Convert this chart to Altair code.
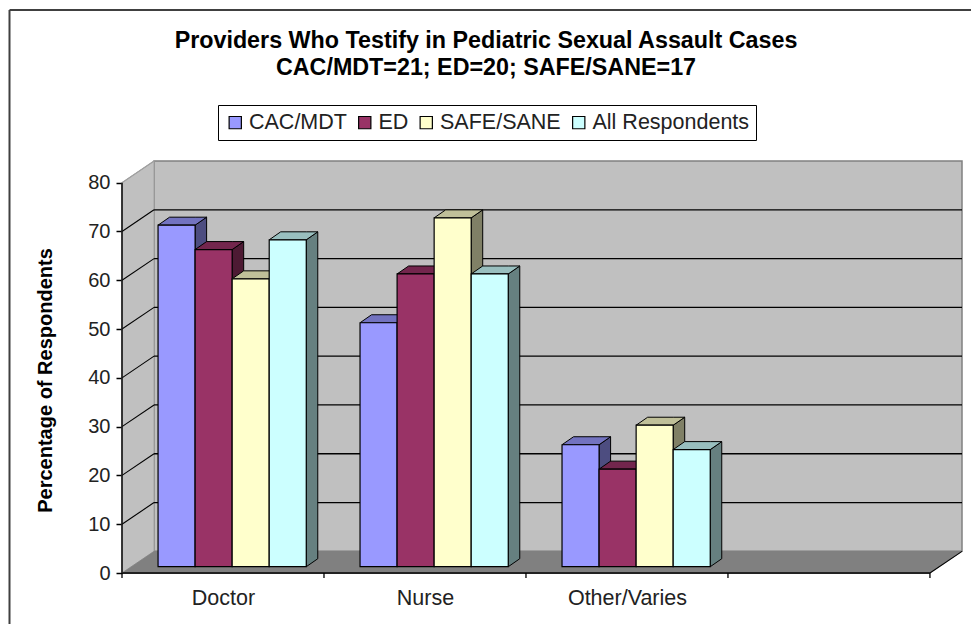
import altair as alt
import pandas as pd

categories = ["Doctor", "Nurse", "Other/Varies"]
series = ["CAC/MDT", "ED", "SAFE/SANE", "All Respondents"]
fronts = ["#9999FF", "#993366", "#FFFFCC", "#CCFFFF"]
tops = ["#7373C0", "#73264D", "#C0C099", "#99BFBF"]
sides = ["#4D4D80", "#4D1A33", "#808066", "#668080"]
values = {
    "CAC/MDT": [70, 50, 25],
    "ED": [65, 60, 20],
    "SAFE/SANE": [59, 71.5, 29],
    "All Respondents": [67, 60, 24],
}
y_ticks = [0, 10, 20, 30, 40, 50, 60, 70, 80]
x_ticks = [0, 1, 2, 3, 4]
grid_levels = [10, 20, 30, 40, 50, 60, 70]
y_title = "Percentage of Respondents"

# chart-space geometry, in scale units
W, H = 840, 412
CAT_PX, PCT_PX = 201.7, 4.8875
WALL_DX, WALL_DY = 32 / CAT_PX, 21.7 / PCT_PX
BAR_DX, BAR_DY = 11.5 / CAT_PX, 8 / PCT_PX
BAR_BASE = 6.3 / PCT_PX
BAR_START, BAR_W = 36 / CAT_PX, 37 / CAT_PX

FONT = "Liberation Sans"
xs = alt.Scale(domain=[0, 4 + WALL_DX], nice=False, zero=False)
ys = alt.Scale(domain=[0, 80 + WALL_DY], nice=False, zero=False)
X = lambda f="x", **k: alt.X(f"{f}:Q", scale=xs, title=None, **k)
Y = lambda f="y", **k: alt.Y(f"{f}:Q", scale=ys, title=y_title, **k)


def area(rows, fill, stroke="black", sw=1.0):
    return alt.Chart(pd.DataFrame(rows, columns=["x", "y", "y0"])).mark_area(
        fill=fill, stroke=stroke, strokeWidth=sw, opacity=1, clip=False
    ).encode(x=X(), y=Y(), y2="y0:Q")


# back wall with the real axes
wall = alt.Chart(pd.DataFrame([{
    "x": WALL_DX, "x2": 4 + WALL_DX, "y": WALL_DY, "y2": 80 + WALL_DY,
}])).mark_rect(fill="#C0C0C0", stroke="#808080", strokeWidth=1.5).encode(
    x=X(axis=alt.Axis(
        values=[0.5, 1.5, 2.5], ticks=False, domain=False, grid=False,
        labelExpr="['Doctor','Nurse','Other/Varies'][floor(datum.value)]",
        labelFont=FONT, labelFontSize=21.5, labelColor="#222222", labelPadding=14,
        labelAngle=0,
    )),
    x2="x2:Q",
    y=Y(axis=alt.Axis(
        values=y_ticks, domain=False, grid=False,
        tickSize=6, tickColor="black", tickWidth=1.5,
        labelFont=FONT, labelFontSize=20, labelColor="#222222", labelPadding=6,
        titleFont=FONT, titleFontSize=20, titleFontWeight="bold", titleColor="black",
        titleX=-67, titleY=219,
    )),
    y2="y2:Q",
)

left_wall = area(
    [(0, 80, 0), (WALL_DX, 80 + WALL_DY, WALL_DY)], "#C0C0C0", "#A0A0A0", 1
)
floor = area(
    [(0, 0, 0), (WALL_DX, WALL_DY, 0), (4, WALL_DY, 0), (4 + WALL_DX, WALL_DY, WALL_DY)],
    "#808080", "#808080", 0.5,
)

grid = alt.Chart(pd.DataFrame({"y": [g + WALL_DY for g in grid_levels]})).mark_rule(
    color="black", strokeWidth=1.3
).encode(
    x=alt.XDatum(WALL_DX, scale=xs, title=None), x2=alt.X2Datum(4 + WALL_DX), y=Y()
)

diag_rows = []
for g in grid_levels:
    diag_rows += [{"g": g, "x": 0, "y": g}, {"g": g, "x": WALL_DX, "y": g + WALL_DY}]
diag_rows += [{"g": -1, "x": 4, "y": 0}, {"g": -1, "x": 4 + WALL_DX, "y": WALL_DY}]
diagonals = alt.Chart(pd.DataFrame(diag_rows)).mark_line(
    color="black", strokeWidth=1.1, clip=False
).encode(x=X(), y=Y(), detail="g:N")

top80 = alt.Chart(pd.DataFrame([{"x": 0, "y": 80}, {"x": WALL_DX, "y": 80 + WALL_DY}])).mark_line(
    color="#A0A0A0", strokeWidth=1.2
).encode(x=X(), y=Y())

# bars
bar_rows = []
depth_layers = []
for c, cat in enumerate(categories):
    for s, name in enumerate(series):
        v = values[name][c] + BAR_BASE
        x0 = c + BAR_START + s * BAR_W
        x1 = x0 + BAR_W
        bar_rows.append({"x": x0, "x2": x1, "y": BAR_BASE, "y2": v, "series": name})
        depth_layers.append(area(
            [(x1, v, BAR_BASE), (x1 + BAR_DX, v + BAR_DY, BAR_BASE + BAR_DY)], sides[s]
        ))
        depth_layers.append(area(
            [(x0, v, v), (x0 + BAR_DX, v + BAR_DY, v), (x1, v + BAR_DY, v),
             (x1 + BAR_DX, v + BAR_DY, v + BAR_DY)], tops[s]
        ))

front = alt.Chart(pd.DataFrame(bar_rows)).mark_rect(
    stroke="black", strokeWidth=1.2, opacity=1
).encode(
    x=X(), x2="x2:Q", y=Y(), y2="y2:Q",
    color=alt.Color("series:N", scale=alt.Scale(domain=series, range=fronts), legend=alt.Legend(
        title=None, orient="none", legendX=96, legendY=-56, direction="horizontal",
        columns=4, columnPadding=6.5, padding=6.5, fillColor="white", strokeColor="black",
        symbolType="square", symbolSize=150, symbolStrokeColor="black", symbolStrokeWidth=1.2,
        symbolOpacity=1, labelFont=FONT, labelFontSize=21.5, labelColor="#222222", labelOffset=3,
    )),
)

# axis lines and category ticks
y_axis_line = alt.Chart(pd.DataFrame([{"y": 0, "y2": 80}])).mark_rule(
    color="#111111", strokeWidth=1.6
).encode(x=alt.XDatum(0, scale=xs, title=None), y=Y(), y2="y2:Q")
x_axis_line = alt.Chart(pd.DataFrame([{"x": 0, "x2": 4}])).mark_rule(
    color="#222222", strokeWidth=2
).encode(x=X(), x2="x2:Q", y=alt.YDatum(0, scale=ys, title=y_title))
x_tick_marks = alt.Chart(pd.DataFrame({"x": x_ticks})).mark_rule(
    color="black", strokeWidth=1.3
).encode(x=X(), y=alt.value(H), y2=alt.value(H + 5))

# outer chart frame, running off the picture at right and bottom
frame_top = alt.Chart(pd.DataFrame({"a": [0]})).mark_rule(color="#404040", strokeWidth=2).encode(
    x=alt.value(-112.5), x2=alt.value(857), y=alt.value(-151)
)
frame_left = alt.Chart(pd.DataFrame({"a": [0]})).mark_rule(color="#404040", strokeWidth=2).encode(
    x=alt.value(-112.5), y=alt.value(-151), y2=alt.value(463)
)

chart = alt.layer(
    wall, left_wall, floor, grid, diagonals, top80, *depth_layers, front,
    y_axis_line, x_axis_line, x_tick_marks, frame_top, frame_left,
).properties(
    width=W, height=H,
    title=alt.TitleParams(
        text=["Providers Who Testify in Pediatric Sexual Assault Cases",
              "CAC/MDT=21; ED=20; SAFE/SANE=17"],
        font=FONT, fontSize=23.3, fontWeight="bold", color="black",
        anchor="middle", frame="group", dx=-56, offset=-71, lineHeight=27,
    ),
    padding={"left": 114, "top": 153, "right": 9, "bottom": 51},
    autosize=alt.AutoSizeParams(type="none"),
    background="white",
).configure_view(stroke=None)

chart.save("out.html", embed_options={"renderer": "svg", "actions": False})
